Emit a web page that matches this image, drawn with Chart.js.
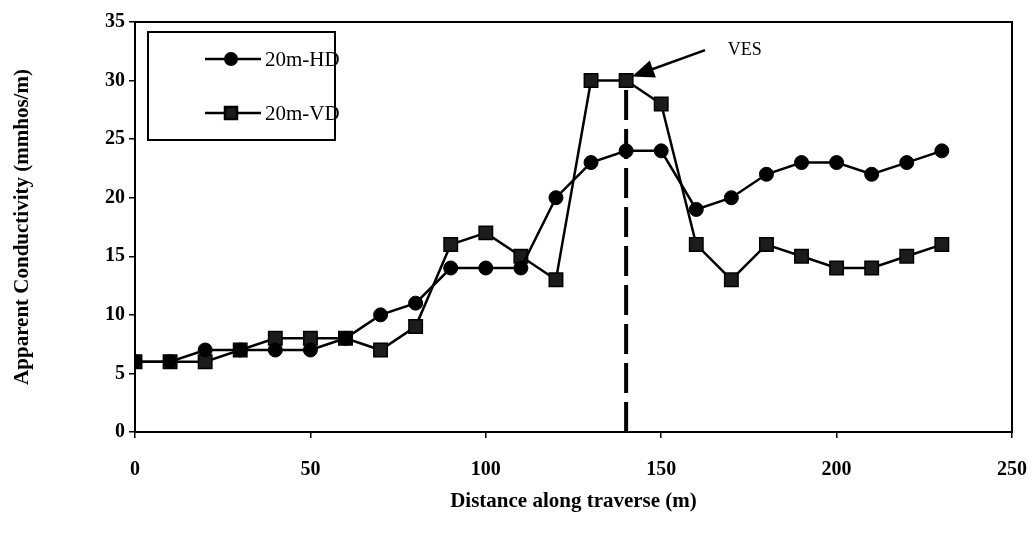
<!DOCTYPE html>
<html>
<head>
<meta charset="utf-8">
<script src="https://cdn.jsdelivr.net/npm/chart.js@4.4.0/dist/chart.umd.min.js"></script>
<style>
  html, body { margin: 0; padding: 0; background: #fff; }
  #wrap { width: 1035px; height: 534px; }
</style>
</head>
<body>
<div id="wrap"><canvas id="chart"></canvas></div>
<script>
const distances = [0, 10, 20, 30, 40, 50, 60, 70, 80, 90, 100, 110, 120, 130, 140, 150, 160, 170, 180, 190, 200, 210, 220, 230];
const hdValues = [6, 6, 7, 7, 7, 7, 8, 10, 11, 14, 14, 14, 20, 23, 24, 24, 19, 20, 22, 23, 23, 22, 23, 24];
const vdValues = [6, 6, 6, 7, 8, 8, 8, 7, 9, 16, 17, 15, 13, 30, 30, 28, 16, 13, 16, 15, 14, 14, 15, 16];
const seriesNames = ['20m-HD', '20m-VD'];
const vesX = 140;
const vesY = 30;
const vesLabel = 'VES';

const FONT = '"Liberation Serif", "DejaVu Serif", serif';

// frame, VES marker and boxed legend
const extras = {
  id: 'extras',
  beforeDatasetsDraw(chart) {
    const { ctx, scales: { x, y } } = chart;
    ctx.save();
    ctx.strokeStyle = '#000';
    ctx.lineWidth = 4;
    ctx.setLineDash([30, 9]);
    ctx.beginPath();
    ctx.moveTo(x.getPixelForValue(vesX), y.getPixelForValue(0));
    ctx.lineTo(x.getPixelForValue(vesX), y.getPixelForValue(vesY));
    ctx.stroke();
    ctx.restore();
  },
  afterDatasetsDraw(chart) {
    const { ctx, chartArea: a, scales: { x, y } } = chart;
    ctx.save();
    ctx.strokeStyle = '#000';
    ctx.lineWidth = 2;
    ctx.strokeRect(a.left, a.top, a.right - a.left, a.bottom - a.top);

    // arrow pointing at the VES point
    const tipX = x.getPixelForValue(vesX) + 6;
    const tipY = y.getPixelForValue(vesY) - 4;
    const tailX = x.getPixelForValue(162.5);
    const tailY = y.getPixelForValue(32.6);
    const ang = Math.atan2(tipY - tailY, tipX - tailX);
    ctx.lineWidth = 2.5;
    ctx.beginPath();
    ctx.moveTo(tailX, tailY);
    ctx.lineTo(tipX - 14 * Math.cos(ang), tipY - 14 * Math.sin(ang));
    ctx.stroke();
    ctx.fillStyle = '#000';
    ctx.beginPath();
    ctx.moveTo(tipX, tipY);
    ctx.lineTo(tipX - 22 * Math.cos(ang) - 9 * Math.sin(ang), tipY - 22 * Math.sin(ang) + 9 * Math.cos(ang));
    ctx.lineTo(tipX - 22 * Math.cos(ang) + 9 * Math.sin(ang), tipY - 22 * Math.sin(ang) - 9 * Math.cos(ang));
    ctx.closePath();
    ctx.fill();
    ctx.font = '18px ' + FONT;
    ctx.textBaseline = 'middle';
    ctx.fillText(vesLabel, x.getPixelForValue(169), y.getPixelForValue(32.6));

    // legend box
    const lx = a.left + 13, ly = a.top + 10, lw = 187, lh = 108;
    ctx.lineWidth = 2;
    ctx.fillStyle = '#fff';
    ctx.fillRect(lx, ly, lw, lh);
    ctx.strokeRect(lx, ly, lw, lh);
    ctx.font = '21px ' + FONT;
    [0, 1].forEach((i) => {
      const cy = ly + 27 + i * 54;
      ctx.lineWidth = 2.5;
      ctx.beginPath();
      ctx.moveTo(lx + 57, cy);
      ctx.lineTo(lx + 113, cy);
      ctx.stroke();
      if (i === 0) {
        ctx.fillStyle = '#000';
        ctx.beginPath();
        ctx.arc(lx + 83, cy, 7, 0, Math.PI * 2);
        ctx.fill();
      } else {
        ctx.fillStyle = '#1c1c1c';
        ctx.fillRect(lx + 77, cy - 6, 12, 12);
        ctx.strokeRect(lx + 77, cy - 6, 12, 12);
      }
      ctx.fillStyle = '#000';
      ctx.fillText(seriesNames[i], lx + 117, cy + 1);
    });
    ctx.restore();
  },
};

new Chart(document.getElementById('chart'), {
  type: 'line',
  data: {
    labels: distances,
    datasets: [
      {
        label: seriesNames[0],
        data: distances.map((d, i) => ({ x: d, y: hdValues[i] })),
        borderColor: '#000',
        backgroundColor: '#000',
        borderWidth: 2.5,
        pointStyle: 'circle',
        pointRadius: 7,
        pointBorderWidth: 1,
        tension: 0,
      },
      {
        label: seriesNames[1],
        data: distances.map((d, i) => ({ x: d, y: vdValues[i] })),
        borderColor: '#000',
        backgroundColor: '#1c1c1c',
        borderWidth: 2.5,
        pointStyle: 'rect',
        pointRadius: 9.5,
        pointBorderWidth: 1.5,
        tension: 0,
      },
    ],
  },
  options: {
    responsive: true,
    maintainAspectRatio: false,
    animation: false,
    layout: { padding: { top: 22, right: 23, left: 0, bottom: 0 } },
    plugins: {
      legend: { display: false },
      tooltip: { enabled: false },
    },
    scales: {
      x: {
        type: 'linear',
        min: 0,
        max: 250,
        afterFit: (s) => { s.height = 102; s.paddingRight = 0; s.paddingLeft = 0; },
        border: { color: '#000', width: 2 },
        grid: { drawOnChartArea: false, color: '#000', tickLength: 6, lineWidth: 1.5 },
        ticks: {
          stepSize: 50,
          color: '#000',
          padding: 20,
          font: { family: FONT, size: 20, weight: 'bold' },
        },
        title: {
          display: true,
          text: 'Distance along traverse (m)',
          color: '#000',
          padding: { top: 20, bottom: 20 },
          font: { family: FONT, size: 21, weight: 'bold' },
        },
      },
      y: {
        min: 0,
        max: 35,
        afterFit: (s) => { s.width = 135; },
        border: { color: '#000', width: 2 },
        grid: { drawOnChartArea: false, color: '#000', tickLength: 6, lineWidth: 1.5 },
        ticks: {
          stepSize: 5,
          color: '#000',
          padding: 4,
          font: { family: FONT, size: 20, weight: 'bold' },
        },
        title: {
          display: true,
          text: 'Apparent Conductivity (mmhos/m)',
          color: '#000',
          padding: { top: 10, bottom: 10 },
          font: { family: FONT, size: 21, weight: 'bold' },
        },
      },
    },
  },
  plugins: [extras],
});
</script>
</body>
</html>
